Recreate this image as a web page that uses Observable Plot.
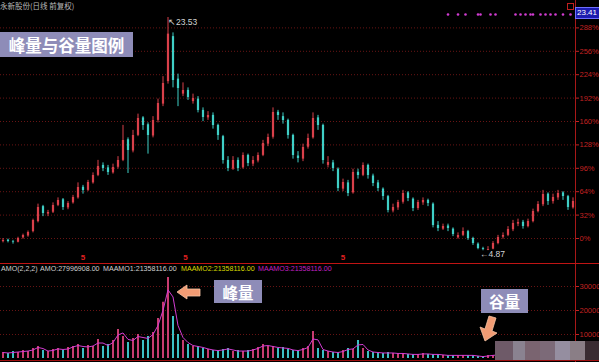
<!DOCTYPE html>
<html><head><meta charset="utf-8">
<script src="https://cdn.jsdelivr.net/npm/d3@7"></script>
<script src="https://cdn.jsdelivr.net/npm/@observablehq/plot@0.6"></script>
<style>
html,body{margin:0;padding:0;background:#000;width:599px;height:362px;overflow:hidden;font-family:"Liberation Sans",Arial,sans-serif}
#wrap{position:relative;width:599px;height:362px;overflow:hidden}
#wrap svg{display:block}
.ov{position:absolute;white-space:nowrap}
.box{position:absolute;background:#8e8cb8;color:#fff;font-family:"Noto Sans CJK SC",sans-serif;font-weight:bold;display:flex;align-items:center;justify-content:center}
.amo{position:absolute;top:265px;font-size:7.1px;white-space:nowrap}
</style></head><body><div id="wrap"></div>
<script>
const opens=[5.60,5.72,5.58,5.55,5.90,6.05,6.40,7.20,8.40,7.80,
7.95,8.50,8.95,8.30,8.70,9.10,9.95,9.70,10.30,10.90,
11.70,11.50,11.10,11.55,12.10,13.75,12.85,14.10,15.50,14.95,
14.05,15.30,16.60,18.40,22.00,18.60,17.40,17.70,16.80,17.00,
16.10,15.50,15.70,14.90,14.00,12.10,11.40,12.10,11.50,12.50,
11.80,12.05,12.50,13.40,13.95,15.95,15.60,15.30,14.10,12.45,
12.20,13.15,13.90,15.50,14.90,11.70,11.90,11.40,9.80,10.30,
9.50,11.15,10.90,11.70,10.85,10.30,9.80,9.20,8.05,8.30,
8.75,9.50,9.00,8.25,8.70,8.90,8.60,6.90,6.60,6.85,
6.60,5.90,6.10,6.40,5.85,5.40,5.05,4.90,5.00,5.45,
5.95,6.10,6.55,7.00,7.15,6.80,7.20,8.00,8.55,9.40,
8.80,9.10,9.50,9.20,8.30];
const closes=[5.69,5.61,5.53,5.85,6.09,6.33,7.29,8.33,7.85,7.93,
8.49,8.89,8.33,8.65,9.13,9.93,9.69,10.33,10.89,11.61,
11.45,11.13,11.53,12.09,13.69,12.89,14.09,15.45,14.89,14.09,
15.29,16.65,18.25,22.20,18.49,17.85,17.69,17.13,17.05,16.09,
15.53,15.69,14.89,14.09,12.09,11.45,12.09,11.45,12.49,11.85,
12.09,12.49,13.45,13.93,15.93,15.69,15.29,14.09,12.49,12.25,
13.13,13.85,15.45,14.89,12.09,11.93,11.45,9.85,10.33,9.45,
11.13,10.89,11.69,10.89,10.25,9.85,9.21,8.09,8.33,8.73,
9.45,9.05,8.25,8.73,8.89,8.65,6.89,6.65,6.81,6.65,
6.17,6.09,6.41,5.85,5.45,5.05,4.98,4.97,5.45,5.93,
6.09,6.57,7.05,7.13,6.81,7.21,8.01,8.57,9.37,8.81,
9.13,9.45,9.21,8.33,8.81];
const highs=[5.85,5.80,5.70,5.95,6.20,6.45,7.40,8.60,8.50,8.10,
8.70,9.10,9.05,8.80,9.30,10.30,10.10,10.50,11.10,12.10,
11.90,11.70,11.80,12.40,14.90,13.90,14.50,15.80,15.60,15.10,
15.60,17.00,18.80,23.53,22.30,19.00,18.30,17.90,17.40,17.20,
16.30,16.00,15.90,15.00,14.10,12.40,12.40,12.30,12.70,12.60,
12.40,12.70,13.70,14.20,16.30,16.10,15.90,15.40,14.20,12.80,
13.40,14.20,15.90,15.70,15.00,12.40,12.10,11.50,10.60,10.50,
11.40,11.40,11.90,11.80,11.00,10.50,9.90,9.30,8.60,8.90,
9.70,9.60,9.10,8.90,9.10,9.00,8.70,7.20,7.00,7.00,
6.70,6.30,6.70,6.50,5.95,5.50,5.15,5.20,5.60,6.10,
6.30,6.80,7.30,7.40,7.30,7.40,8.20,8.80,9.70,9.50,
9.40,9.70,9.60,9.30,9.10];
const lows=[5.50,5.50,5.40,5.50,5.80,5.95,6.30,7.10,7.60,7.60,
7.85,8.40,8.10,8.15,8.60,9.00,9.40,9.60,10.20,10.80,
11.20,10.90,11.00,11.40,12.00,11.05,12.70,14.00,14.50,12.60,
13.90,15.10,16.40,18.20,17.90,16.40,17.20,16.90,16.60,15.90,
15.20,15.30,14.60,13.70,11.80,11.20,11.30,11.20,11.40,11.60,
11.60,11.90,12.40,13.20,13.80,15.30,15.00,13.80,12.20,11.90,
12.00,13.00,13.80,14.50,11.80,11.50,11.20,9.60,9.60,9.20,
9.40,10.60,10.80,10.60,10.00,9.60,8.90,7.90,7.90,8.10,
8.60,8.80,8.00,8.10,8.50,8.40,6.70,6.40,6.50,6.40,
6.00,5.80,6.00,5.70,5.30,4.95,4.87,4.88,4.95,5.35,
5.80,6.00,6.40,6.80,6.60,6.70,7.10,7.90,8.40,8.50,
8.60,8.90,8.90,8.10,8.20];
const vols=[2500,2100,2900,2500,3300,2900,4200,5000,3300,2900,
3800,4200,3300,4600,5000,5800,4200,5400,5000,7900,
5000,5800,7500,12100,9200,6700,8300,10000,7500,9200,
10800,16700,23400,33800,17500,10000,7500,5800,5000,5000,
4200,3800,3300,3300,3800,4200,2900,3300,2900,3300,
3800,4600,5800,5000,5000,4200,4600,3800,3300,3300,
4200,5000,11300,4200,3300,2900,2500,2500,3300,4200,
3800,7500,4200,2900,2500,2500,2100,2500,2100,2100,
2100,1700,1700,1700,2100,1700,1700,1700,1300,1300,
1300,1300,1300,1300,1300,800,800,1300,1300,1700,
1700,2100,2100,2500,2100,2500,2900,3300,4200,3300,
2900,3300,2900,2500,2500];
const pctTicks=[0,32,64,96,128,160,192,224,256,288];
const volTicks=[10000,20000,30000];
const eventIdx=[89,91,92.5,95,95.5,97.5,98.5,102.5,103.5,104.5,105.5,106,107.5,108.5,109.5,110.5,112,113.5];
const markerIdx=[16,36.5,68];
const P0=5.85;
const lastPrice=23.41;

const candles=closes.map((c,i)=>({i,o:opens[i],c,h:highs[i],l:lows[i],v:vols[i],up:c>=opens[i]}));
const ups=candles.filter(d=>d.up), dns=candles.filter(d=>!d.up);
const UP="#d9404a", DN="#3fcfc6", UPV="#c83c70", DNV="#3cc0c4", GRID="#681414", AX="#c42222";
const priceTicks=pctTicks.map(p=>P0*(1+p/100));
const hi=candles[d3.maxIndex(highs)], lo=candles[d3.minIndex(lows)];

const price=Plot.plot({
  width:599,height:264,margin:0,marginRight:24,
  x:{domain:[-0.5,114.5],axis:null},
  y:{domain:[3.77,24.89]},
  style:{background:"#000",color:AX,fontSize:"7.5px",fontFamily:"Liberation Sans, Arial, sans-serif"},
  marks:[
    Plot.ruleY(priceTicks,{stroke:GRID,strokeDasharray:"1,2"}),
    Plot.axisY(priceTicks,{anchor:"right",tickSize:3,tickPadding:1,label:null,tickFormat:d=>Math.round((d/P0-1)*100)+"%"}),
    Plot.ruleX(ups,{x:"i",y1:"l",y2:"h",stroke:UP,strokeWidth:1}),
    Plot.ruleX(dns,{x:"i",y1:"l",y2:"h",stroke:DN,strokeWidth:1}),
    Plot.ruleX(ups,{x:"i",y1:"o",y2:"c",stroke:UP,strokeWidth:2.2}),
    Plot.ruleX(dns,{x:"i",y1:"o",y2:"c",stroke:DN,strokeWidth:2.2}),
    Plot.text([hi],{x:"i",y:"h",text:d=>"\u2196"+d.h.toFixed(2),textAnchor:"start",dx:0,dy:5,fill:"#d4d4d4",fontSize:8.5}),
    Plot.text([lo],{x:"i",y:"l",text:d=>"\u2190"+d.l.toFixed(2),textAnchor:"start",dx:-3,dy:4,fill:"#d4d4d4",fontSize:8.5}),
    Plot.dot(eventIdx,{x:d=>d,frameAnchor:"top",dy:14,r:1.3,fill:"#d23cd2"}),
    Plot.text(markerIdx,{x:d=>d,frameAnchor:"bottom",dy:-5,text:()=>"5",fill:"#e02020",fontSize:8,fontWeight:"bold"})
  ]
});

const vol=Plot.plot({
  width:599,height:98,margin:0,marginRight:24,
  x:{domain:[-0.5,114.5],axis:null},
  y:{domain:[-1667,39167]},
  style:{background:"#000",color:AX,fontSize:"7.5px",fontFamily:"Liberation Sans, Arial, sans-serif"},
  marks:[
    Plot.ruleY(volTicks,{stroke:GRID,strokeDasharray:"1,2"}),
    Plot.axisY(volTicks,{anchor:"right",tickSize:3,tickPadding:1,label:null,tickFormat:d3.format("d")}),
    Plot.ruleX(ups,{x:"i",y1:0,y2:"v",stroke:UPV,strokeWidth:2}),
    Plot.ruleX(dns,{x:"i",y1:0,y2:"v",stroke:DNV,strokeWidth:2}),
    Plot.line(vols,Plot.windowY({k:2,anchor:"end"},{x:(d,i)=>i,y:d=>d,stroke:"#d23cd2",strokeWidth:1}))
  ]
});

const wrap=document.getElementById("wrap");
wrap.appendChild(price);
wrap.appendChild(vol);

function add(html){wrap.insertAdjacentHTML("beforeend",html);}
// frame lines
add('<div class="ov" style="left:575px;top:0;width:1px;height:362px;background:#a81818"></div>');
add('<div class="ov" style="left:0;top:263px;width:599px;height:1px;background:#c01414"></div>');
add('<div class="ov" style="left:0;top:360px;width:599px;height:1px;background:#a01010"></div>');
// title
add('<div class="ov" style="left:0;top:0px;font-size:7.5px;color:#b8b8b8;font-family:\'Noto Sans CJK SC\',sans-serif">永新股份(日线 前复权)</div>');
// last price box
add('<div class="ov" style="left:575px;top:7px;width:22px;height:10px;background:#1c1cb0;border:1px solid #6f6fff;color:#fff;font-size:8px;line-height:10px;padding-left:1px">'+lastPrice.toFixed(2)+'</div>');
add('<div class="ov" style="left:567px;top:3px;width:5px;height:5px;border:1px solid #c02020"></div>');
// AMO line
add('<div class="amo" style="left:1px;color:#d0d0d0">AMO(2,2,2)</div>');
add('<div class="amo" style="left:40px;color:#d0d0d0">AMO:27996908.00</div>');
add('<div class="amo" style="left:103px;color:#d0d0d0">MAAMO1:21358116.00</div>');
add('<div class="amo" style="left:181px;color:#d8d800">MAAMO2:21358116.00</div>');
add('<div class="amo" style="left:258px;color:#c020c0">MAAMO3:21358116.00</div>');
// annotation boxes
add('<div class="box" style="left:0;top:32px;width:133px;height:25px;font-size:16.5px">峰量与谷量图例</div>');
add('<div class="box" style="left:214px;top:280px;width:48px;height:23px;font-size:15.5px">峰量</div>');
add('<div class="box" style="left:481px;top:289px;width:47px;height:24px;font-size:15.5px">谷量</div>');
// arrows
add('<svg class="ov" style="left:0;top:0" width="599" height="362"><polygon points="177,292 187,285 187,289 200,289 200,296 187,296 187,299" fill="#f29c74" stroke="#f8c4a4" stroke-width="0.8"/><polygon points="489,316 496,318 492,331 497,333 485,341 480,327 485,329" fill="#f29c74" stroke="#f8c4a4" stroke-width="0.8"/></svg>');
// mosaic
[[495,513,"#6e5a68"],[513,525,"#8a8290"],[525,540,"#7a6470"],[540,555,"#7c6a78"],[555,570,"#958ea0"],[570,585,"#8a7e86"],[585,599,"#3a2c32"]]
  .forEach(([a,b,c])=>add('<div class="ov" style="left:'+a+'px;top:341px;width:'+(b-a)+'px;height:19px;background:'+c+'"></div>'));
</script></body></html>
